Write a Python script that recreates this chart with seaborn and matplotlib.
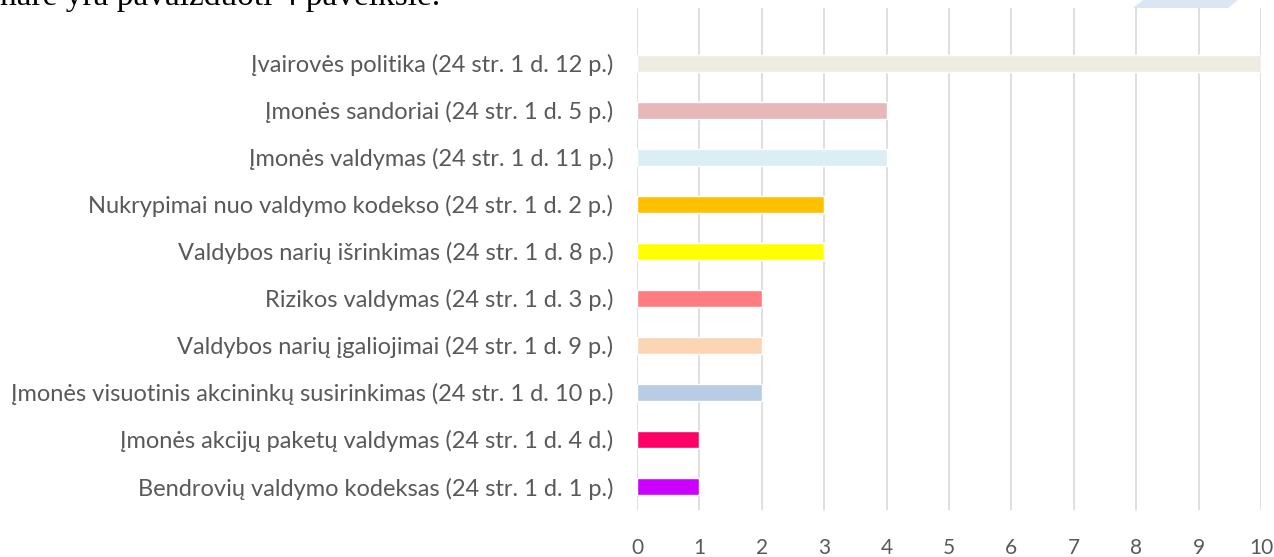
import matplotlib
matplotlib.use("Agg")
import matplotlib.pyplot as plt
from matplotlib.patches import Polygon
import seaborn as sns
import pandas as pd

categories = [
    "Įvairovės politika (24 str. 1 d. 12 p.)",
    "Įmonės sandoriai (24 str. 1 d. 5 p.)",
    "Įmonės valdymas (24 str. 1 d. 11 p.)",
    "Nukrypimai nuo valdymo kodekso (24 str. 1 d. 2 p.)",
    "Valdybos narių išrinkimas (24 str. 1 d. 8 p.)",
    "Rizikos valdymas (24 str. 1 d. 3 p.)",
    "Valdybos narių įgaliojimai (24 str. 1 d. 9 p.)",
    "Įmonės visuotinis akcininkų susirinkimas (24 str. 1 d. 10 p.)",
    "Įmonės akcijų paketų valdymas (24 str. 1 d. 4 d.)",
    "Bendrovių valdymo kodeksas (24 str. 1 d. 1 p.)",
]
values = [10, 4, 4, 3, 3, 2, 2, 2, 1, 1]
colors = ["#eeece1", "#e6b8b7", "#dbeef3", "#ffc000", "#ffff00",
          "#ff7c80", "#fcd5b4", "#b8cce4", "#ff0066", "#cc00ff"]
x_ticks = list(range(0, 11))

df = pd.DataFrame({"cat": categories, "val": values})

sns.set_theme(style="white")
plt.rcParams["font.family"] = ["Lato", "DejaVu Sans"]

W, H = 1274, 557
fig = plt.figure(figsize=(W / 100, H / 100), dpi=100)
ax = fig.add_axes([637 / W, 47 / H, (1261 - 637) / W, (510 - 8) / H])

sns.barplot(data=df, x="val", y="cat", hue="cat", palette=colors,
            legend=False, width=0.36, ax=ax, orient="h", saturation=1)

ax.set_xlim(0, 10)
ax.set_ylim(9.5, -1.17)
ax.set_xticks(x_ticks)
ax.set_xlabel("")
ax.set_ylabel("")
for s in ax.spines.values():
    s.set_visible(False)
ax.grid(axis="x", color="#d9d9d9", linewidth=1.2)
ax.grid(axis="y", visible=False)
ax.set_axisbelow(True)
ax.tick_params(axis="x", length=0, pad=20, labelsize=15, labelcolor="#595959")
ax.tick_params(axis="y", length=0, pad=17, labelsize=17, labelcolor="#595959")

fig.text(0.0, (H - 5) / H, "narė yra pavaizduoti 4 paveiksle.",
         family=["Liberation Serif", "DejaVu Serif"], fontsize=24,
         color="black", va="baseline", ha="left")

poly = Polygon([(1143 / W, 1.0), (1238 / W, 1.0),
                (1228 / W, 1 - 8 / H), (1133 / W, 1 - 8 / H)],
               closed=True, transform=fig.transFigure, facecolor="#dce6f2",
               edgecolor="none")
fig.patches.append(poly)

fig.savefig("out.png", dpi=100)
